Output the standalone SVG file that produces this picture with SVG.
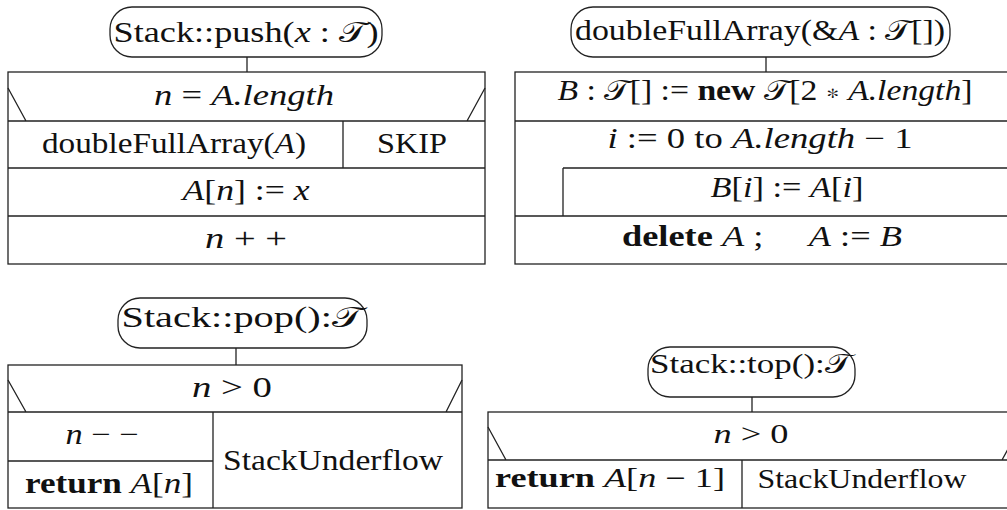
<svg xmlns="http://www.w3.org/2000/svg" width="1007" height="510" viewBox="0 0 1007 510">
<style>
.ln{fill:none;stroke:#222;stroke-width:1.3}
.ov{fill:#fff;stroke:#222;stroke-width:1.3}
.t{fill:#111;text-anchor:middle}
.i{font-style:italic}
.b{font-weight:bold}
</style>
<rect width="1007" height="510" fill="#fff"/>
<g id="connectors">
<line class="ln" x1="247" y1="57" x2="247" y2="72"/>
<line class="ln" x1="766" y1="57" x2="766" y2="72"/>
<line class="ln" x1="236" y1="348" x2="236" y2="365"/>
<line class="ln" x1="752" y1="397" x2="752" y2="412"/>
</g>
<g id="push" font-family="'Liberation Serif', serif" font-size="29">
<rect class="ov" x="110" y="7" width="272" height="50" rx="22"/>
<text class="t" x="246" y="42" textLength="265" lengthAdjust="spacingAndGlyphs">Stack::push(<tspan class="i">x</tspan> : 𝒯)</text>
<rect class="ln" x="8" y="72" width="477" height="192"/>
<path class="ln" d="M8 121H485M8 168H485M8 216H485M8 88L26 121M485 88L467 121M343 121V168"/>
<text class="t" x="244" y="105" textLength="180" lengthAdjust="spacingAndGlyphs"><tspan class="i">n</tspan> = <tspan class="i">A.length</tspan></text>
<text class="t" x="174" y="153" textLength="264" lengthAdjust="spacingAndGlyphs">doubleFullArray(<tspan class="i">A</tspan>)</text>
<text class="t" x="412" y="153" textLength="70" lengthAdjust="spacingAndGlyphs">SKIP</text>
<text class="t" x="246" y="200" textLength="127" lengthAdjust="spacingAndGlyphs"><tspan class="i">A</tspan>[<tspan class="i">n</tspan>] := <tspan class="i">x</tspan></text>
<text class="t" x="246" y="248" textLength="82" lengthAdjust="spacingAndGlyphs"><tspan class="i">n</tspan> + +</text>
</g>
<g id="doubleFullArray" font-family="'Liberation Serif', serif" font-size="29">
<rect class="ov" x="571" y="7" width="379" height="50" rx="22"/>
<text class="t" x="760" y="40" textLength="370" lengthAdjust="spacingAndGlyphs">doubleFullArray(&amp;<tspan class="i">A</tspan> : 𝒯[])</text>
<rect class="ln" x="515" y="72" width="502" height="192"/>
<path class="ln" d="M515 121H1017M563 168H1017M515 216H1017M563 168V216"/>
<text class="t" x="765" y="100" textLength="415" lengthAdjust="spacingAndGlyphs"><tspan class="i">B</tspan> : 𝒯[] := <tspan class="b">new</tspan> 𝒯[2 ∗ <tspan class="i">A.length</tspan>]</text>
<text class="t" x="760" y="148" textLength="305" lengthAdjust="spacingAndGlyphs"><tspan class="i">i</tspan> := 0 to <tspan class="i">A.length</tspan> − 1</text>
<text class="t" x="787" y="197" textLength="153" lengthAdjust="spacingAndGlyphs"><tspan class="i">B</tspan>[<tspan class="i">i</tspan>] := <tspan class="i">A</tspan>[<tspan class="i">i</tspan>]</text>
<text class="t" x="762" y="246" textLength="280" lengthAdjust="spacingAndGlyphs" xml:space="preserve"><tspan class="b">delete</tspan> <tspan class="i">A</tspan> ;     <tspan class="i">A</tspan> := <tspan class="i">B</tspan></text>
</g>
<g id="pop" font-family="'Liberation Serif', serif" font-size="29">
<rect class="ov" x="118" y="298" width="249" height="50" rx="22"/>
<text class="t" x="242" y="327" textLength="241" lengthAdjust="spacingAndGlyphs">Stack::pop():𝒯</text>
<rect class="ln" x="8" y="365" width="454" height="143"/>
<path class="ln" d="M8 412H462M8 461H213M213 412V508M8 380L26 412M462 380L446 412"/>
<text class="t" x="232" y="397" textLength="80" lengthAdjust="spacingAndGlyphs"><tspan class="i">n</tspan> &gt; 0</text>
<text class="t" x="102" y="444" textLength="73" lengthAdjust="spacingAndGlyphs"><tspan class="i">n</tspan> − −</text>
<text class="t" x="109" y="493" textLength="168" lengthAdjust="spacingAndGlyphs"><tspan class="b">return</tspan> <tspan class="i">A</tspan>[<tspan class="i">n</tspan>]</text>
<text class="t" x="333" y="470" textLength="220" lengthAdjust="spacingAndGlyphs">StackUnderflow</text>
</g>
<g id="top" font-family="'Liberation Serif', serif" font-size="27">
<rect class="ov" x="648" y="347" width="207" height="50" rx="22"/>
<text class="t" x="751" y="373" textLength="202" lengthAdjust="spacingAndGlyphs">Stack::top():𝒯</text>
<rect class="ln" x="488" y="412" width="532" height="96"/>
<path class="ln" d="M488 460H1020M742 460V508M488 427L506 460M1020 427L1002 460"/>
<text class="t" x="751" y="443" textLength="75" lengthAdjust="spacingAndGlyphs"><tspan class="i">n</tspan> &gt; 0</text>
<text class="t" x="610" y="487" textLength="230" lengthAdjust="spacingAndGlyphs"><tspan class="b">return</tspan> <tspan class="i">A</tspan>[<tspan class="i">n</tspan> − 1]</text>
<text class="t" x="862" y="488" textLength="209" lengthAdjust="spacingAndGlyphs">StackUnderflow</text>
</g>
</svg>
